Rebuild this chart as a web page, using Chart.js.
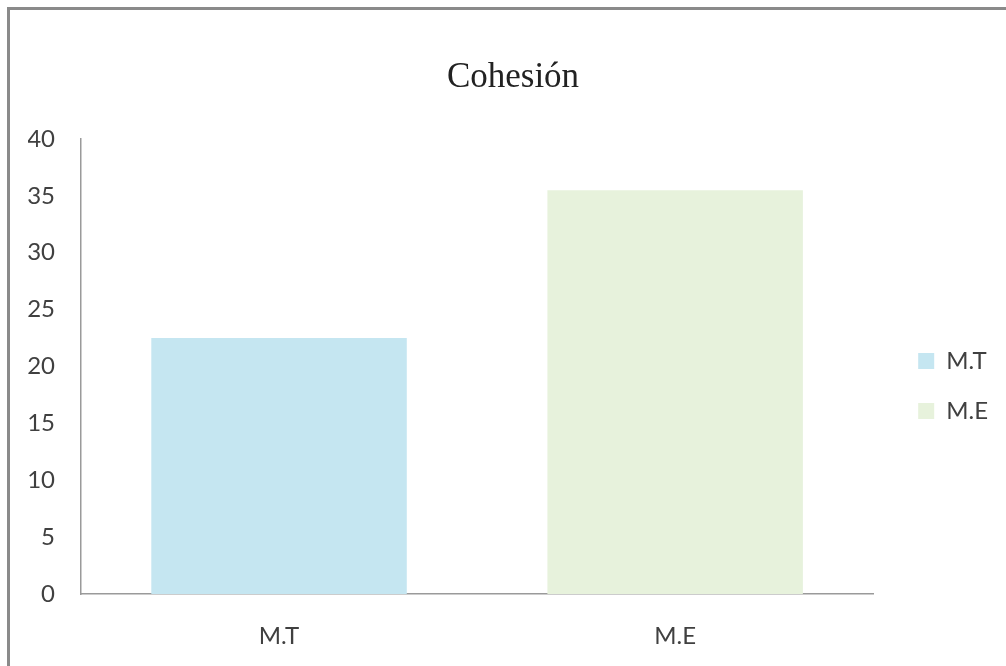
<!DOCTYPE html>
<html>
<head>
<meta charset="utf-8">
<script src="https://cdn.jsdelivr.net/npm/chart.js@4.4.1/dist/chart.umd.min.js"></script>
<style>
  html, body { margin: 0; padding: 0; background: #fff; }
  #marco {
    position: absolute; left: 7px; top: 7px; width: 1010px; height: 670px;
    border-top: 3px solid #8a8a8a; border-left: 3px solid #8a8a8a;
  }
  #lienzo { position: absolute; left: 0; top: 0; width: 1006px; height: 666px; }
</style>
</head>
<body>
<div id="marco"></div>
<div id="lienzo"><canvas id="myChartCohesion" width="1006" height="666"></canvas></div>
<script>
const categorias = ["M.T", "M.E"];
const valores = [22.5, 35.5];
const colores = ["#c5e6f1", "#e7f2dc"];
const ticksY = [0, 5, 10, 15, 20, 25, 30, 35, 40];

const ctxCohesion = document.getElementById("myChartCohesion").getContext("2d");

const myChartCohesion = new Chart(ctxCohesion, {
  type: "bar",
  data: {
    labels: categorias,
    datasets: [
      {
        label: "Cohesión",
        data: valores,
        backgroundColor: colores,
        borderWidth: 0,
        barPercentage: 0.645,
        categoryPercentage: 1,
      },
    ],
  },
  options: {
    responsive: false,
    animation: false,
    layout: {
      padding: { left: 28, right: 8, top: 0, bottom: 16 },
    },
    scales: {
      x: {
        grid: { display: false, drawTicks: false },
        border: { display: true, color: "#9a9a9a", width: 1.5 },
        ticks: {
          color: "#404040",
          font: { family: "Lato", size: 24 },
          padding: 28,
        },
        afterFit: (scale) => {
          scale.height = 56;
        },
      },
      y: {
        min: 0,
        max: 40,
        afterBuildTicks: (scale) => {
          scale.ticks = ticksY.map((v) => ({ value: v }));
        },
        grid: { display: false, drawTicks: false },
        border: { display: true, color: "#9a9a9a", width: 1.5 },
        ticks: {
          color: "#404040",
          font: { family: "Lato", size: 24 },
          padding: 26,
        },
        afterFit: (scale) => {
          scale.width = 53;
        },
      },
      // eje vacio a la derecha para separar la leyenda
      yDer: {
        position: "right",
        display: true,
        grid: { display: false },
        border: { display: false },
        ticks: { display: false },
        afterFit: (scale) => {
          scale.width = 19;
        },
      },
    },
    plugins: {
      title: {
        display: true,
        text: "Cohesión",
        color: "#222",
        font: { family: "Liberation Serif", size: 35, weight: "normal" },
        padding: { top: 57, bottom: 40 },
      },
      legend: {
        position: "right",
        title: {
          display: true,
          text: "",
          font: { size: 12, lineHeight: 1 },
          padding: 55,
        },
        labels: {
          color: "#404040",
          font: { family: "Lato", size: 24 },
          boxWidth: 16,
          boxHeight: 16,
          padding: 26,
          generateLabels: (chart) =>
            categorias.map((cat, i) => ({
              text: cat,
              fillStyle: colores[i],
              strokeStyle: colores[i],
              lineWidth: 0,
              fontColor: "#404040",
              index: i,
            })),
        },
      },
      tooltip: { enabled: false },
    },
  },
});
</script>
</body>
</html>
